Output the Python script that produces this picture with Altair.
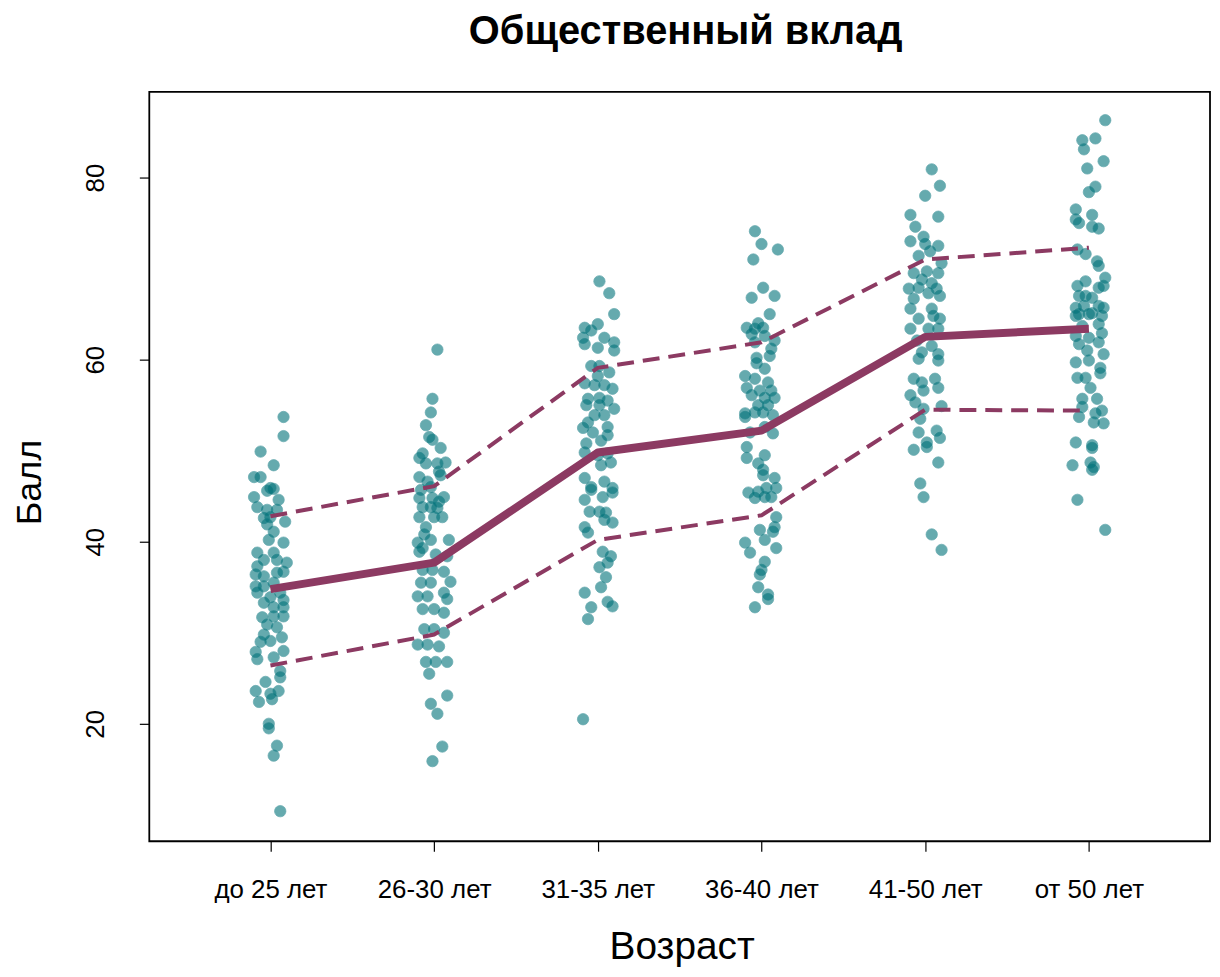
import altair as alt
import pandas as pd

title_text = "Общественный вклад"
x_title = "Возраст"
y_title = "Балл"
categories = ["до 25 лет", "26-30 лет", "31-35 лет", "36-40 лет", "41-50 лет", "от 50 лет"]

mean_vals = [34.8, 37.7, 49.8, 52.2, 62.5, 63.4]
upper_vals = [42.8, 46.1, 59.1, 61.9, 71.0, 72.3]
lower_vals = [26.4, 29.8, 40.2, 42.9, 54.5, 54.4]

g1_y = [53.7,51.6,49.9,48.4,47.1,47.1,45.9,45.8,45.6,44.9,44.6,43.8,43.5,43.5,42.6,42.7,42.2,41.9,41.1,40.2,
        39.9,38.8,38.8,38.0,38.0,37.7,37.3,36.7,36.4,36.2,36.6,35.1,35.1,35.5,34.4,34.4,33.9,33.6,33.3,32.8,
        32.8,31.7,31.8,31.8,30.9,30.6,29.8,29.5,29.0,29.1,28.0,27.9,27.1,27.3,25.8,25.1,24.6,23.6,23.6,23.3,
        22.4,22.7,20.0,19.5,17.6,16.5,10.4]
g1_dx = [0.08,0.08,-0.06,0.02,-0.10,-0.06,0.00,0.02,-0.02,-0.10,0.05,-0.08,-0.02,0.04,-0.04,0.00,0.09,-0.02,0.02,-0.01,
         0.08,-0.08,0.02,-0.04,0.04,0.10,-0.08,0.08,-0.09,-0.04,0.04,-0.09,-0.04,0.02,0.06,-0.08,0.00,0.08,-0.04,0.02,
         0.08,-0.05,0.02,0.08,-0.02,0.04,-0.04,0.07,-0.06,0.00,0.08,-0.09,-0.08,0.02,0.06,0.06,-0.03,-0.09,0.05,0.00,
         -0.07,0.01,-0.01,-0.01,0.04,0.02,0.06]

g2_y = [61.1,55.7,54.2,52.8,51.5,51.2,50.3,49.7,49.2,48.6,48.6,48.7,47.7,47.1,46.6,47.3,46.0,45.7,44.8,44.8,
        44.9,43.8,43.8,43.7,44.4,42.7,42.7,42.7,41.6,40.8,39.9,39.3,40.2,40.2,38.9,38.6,38.4,36.9,36.9,36.7,
        35.5,35.5,35.6,34.0,34.0,34.4,33.7,32.6,32.6,32.2,30.4,30.4,30.0,28.7,28.7,28.5,26.8,26.8,26.8,25.5,
        23.1,22.2,21.1,17.5,15.9]
g2_dx = [0.02,-0.01,-0.02,-0.05,-0.03,-0.01,0.04,-0.07,-0.09,-0.05,0.02,0.07,0.03,-0.09,-0.04,0.04,-0.02,-0.08,-0.09,-0.01,
         0.06,-0.07,-0.02,0.02,0.03,-0.09,0.00,0.05,-0.05,-0.06,-0.10,-0.07,-0.02,0.09,-0.09,0.01,0.08,-0.07,-0.01,0.06,
         -0.08,-0.02,0.10,-0.10,-0.04,0.06,0.08,-0.07,0.00,0.06,-0.06,0.00,0.06,-0.10,-0.04,0.03,-0.05,0.01,0.08,-0.03,
         0.08,-0.02,0.02,0.05,-0.01]

g3_y = [68.6,67.3,65.0,63.9,63.5,63.2,62.4,62.4,61.7,61.3,61.9,61.0,59.3,59.3,58.6,58.2,57.4,57.2,57.2,56.8,
        55.7,55.8,55.5,55.0,55.0,54.6,53.9,53.9,53.1,52.5,52.6,52.0,51.7,50.8,51.1,49.8,49.5,49.7,48.4,48.7,
        47.0,46.0,46.6,45.9,45.7,44.9,45.4,44.6,43.3,43.3,43.2,42.4,42.1,41.6,41.0,38.9,38.4,37.7,37.2,36.1,
        35.0,34.4,33.4,32.9,32.8,31.5,20.5]
g3_dx = [0.01,0.07,0.10,0.00,-0.08,-0.04,-0.09,0.04,-0.08,0.00,0.10,0.10,-0.04,0.01,0.07,0.00,-0.08,-0.02,0.04,0.09,
         -0.06,0.01,0.06,-0.07,0.01,0.10,-0.02,0.04,-0.06,-0.09,0.06,-0.03,0.06,-0.07,0.02,-0.08,0.00,0.06,0.02,0.08,
         -0.08,-0.04,0.04,0.09,-0.04,0.03,0.09,-0.08,-0.05,0.01,0.05,0.04,0.09,-0.08,-0.06,0.03,0.08,0.06,0.01,0.05,
         0.02,-0.08,0.06,0.09,-0.04,-0.06,-0.09]

g4_y = [74.1,72.7,72.1,71.0,67.9,66.8,67.0,65.0,64.0,63.5,63.4,63.5,62.8,62.6,61.9,62.1,61.2,60.4,60.2,59.6,
        59.0,58.2,57.9,57.5,56.9,56.6,56.6,56.1,55.8,55.8,55.0,55.0,54.2,54.1,54.2,53.7,53.9,52.0,52.6,51.9,
        50.4,49.2,49.5,48.6,47.9,47.3,47.0,45.4,45.5,45.9,45.9,44.8,44.9,44.9,42.7,41.6,41.3,41.1,40.2,39.9,
        38.8,39.3,37.8,36.9,36.4,35.0,34.2,33.7,32.8]
g4_dx = [-0.04,0.00,0.10,-0.05,0.01,-0.06,0.08,0.05,-0.02,-0.09,-0.04,0.01,-0.06,0.02,-0.04,0.08,0.06,0.05,-0.03,-0.03,
         0.02,-0.10,-0.04,0.04,-0.09,-0.01,0.06,-0.06,0.02,0.08,-0.02,0.04,-0.04,-0.10,0.01,-0.10,0.07,-0.07,0.02,0.07,
         -0.09,-0.09,0.02,-0.02,0.01,0.01,0.08,-0.08,-0.02,0.03,0.09,-0.04,0.02,0.06,0.09,0.08,-0.01,0.07,0.02,-0.10,
         -0.07,0.09,0.02,0.00,-0.01,-0.02,0.04,0.04,-0.04]

g5_y = [80.9,79.1,78.0,75.9,75.7,74.6,73.0,73.5,72.5,72.7,71.9,71.4,70.6,69.5,69.7,69.5,68.8,68.4,67.8,67.9,
        67.8,67.3,66.7,67.0,65.6,65.6,64.5,64.8,64.5,63.4,63.4,63.4,62.1,61.5,60.8,60.6,60.1,59.9,57.9,57.9,
        57.5,56.1,56.9,56.6,55.3,54.6,54.9,53.5,52.0,52.2,51.4,50.9,50.4,50.1,48.7,46.4,44.9,40.8,39.1]
g5_dx = [0.04,0.09,0.00,-0.09,0.08,-0.06,-0.09,-0.01,0.08,0.00,0.03,-0.04,0.10,-0.07,0.01,0.08,-0.02,0.04,-0.10,-0.04,
         0.07,0.02,-0.07,0.09,-0.09,0.04,-0.04,0.05,0.09,-0.09,0.02,0.08,-0.05,0.04,-0.02,0.08,-0.04,0.08,-0.07,0.06,
         -0.02,-0.09,0.08,-0.01,-0.06,-0.01,0.10,-0.03,-0.04,0.07,0.09,0.01,0.01,-0.07,0.08,-0.03,-0.01,0.04,0.10]

g6_y = [86.3,84.1,84.3,83.1,81.8,81.0,79.0,78.4,76.5,75.9,75.4,75.0,74.6,74.4,72.1,71.6,70.8,70.3,69.0,68.6,
        68.1,68.1,67.9,67.0,67.0,66.8,65.7,65.9,65.9,65.7,65.0,65.1,64.8,65.0,64.8,63.7,63.9,62.6,62.4,62.9,
        61.7,61.9,61.0,60.6,59.7,59.9,59.1,58.5,58.0,58.0,56.9,55.7,55.7,54.8,54.4,53.7,54.1,53.1,53.0,50.9,
        50.6,50.3,48.4,48.7,48.2,47.9,44.6,41.3]
g6_dx = [0.10,-0.04,0.04,-0.03,0.09,-0.01,0.04,0.00,-0.08,0.02,-0.08,-0.06,0.02,0.06,-0.07,-0.02,0.05,0.06,0.10,-0.02,
         -0.07,0.09,0.06,-0.06,-0.02,0.02,-0.08,-0.03,0.06,0.09,-0.06,0.02,-0.08,0.00,0.08,-0.04,0.06,-0.08,0.00,0.08,
         -0.06,0.06,-0.01,0.09,-0.08,0.00,0.07,0.07,-0.07,-0.02,0.01,-0.04,0.05,-0.04,0.08,-0.06,0.04,0.03,0.09,-0.08,
         0.02,0.02,-0.10,0.01,0.03,0.02,-0.07,0.10]

groups_y = [g1_y, g2_y, g3_y, g4_y, g5_y, g6_y]
groups_dx = [g1_dx, g2_dx, g3_dx, g4_dx, g5_dx, g6_dx]

rows = []
for i, (ys, dxs) in enumerate(zip(groups_y, groups_dx)):
    for y, dx in zip(ys, dxs):
        rows.append({"pos": i + 1 + dx, "score": y})
pts = pd.DataFrame(rows)

lines = pd.DataFrame({
    "pos": list(range(1, 7)),
    "mean": mean_vals,
    "upper": upper_vals,
    "lower": lower_vals,
})

FONT = "Liberation Sans"
TEAL = "#00727a"
PURPLE = "#8c3a62"
W, H = 1066, 753

label_expr = "[" + ",".join("'" + c + "'" for c in categories) + "][datum.value - 1]"

x_scale = alt.Scale(domain=[0.26, 6.74], nice=False, zero=False)
y_scale = alt.Scale(domain=[7.1, 89.4], nice=False, zero=False)

x_enc = alt.X(
    "pos:Q",
    scale=x_scale,
    axis=alt.Axis(
        values=[1, 2, 3, 4, 5, 6], labelExpr=label_expr, title=x_title,
        grid=False, domain=False, tickSize=10, tickColor="black", tickWidth=1.2,
        labelFont=FONT, labelFontSize=26, labelColor="black", labelPadding=26,
        titleFont=FONT, titleFontSize=39, titleFontWeight="normal", titleColor="black",
        titleX=W / 2 + 2, titleY=106, titleBaseline="middle", titleAlign="center",
    ),
)

y_axis = alt.Axis(
    values=[20, 40, 60, 80], title=y_title, grid=False, domain=False,
    tickSize=10, tickColor="black", tickWidth=1.2,
    labelFont=FONT, labelFontSize=26, labelColor="black", labelAngle=-90,
    labelAlign="center", labelBaseline="bottom", labelPadding=31,
    titleFont=FONT, titleFontSize=36, titleFontWeight="normal", titleColor="black",
    titleX=-120, titleY=392, titleBaseline="middle", titleAlign="center",
)

points = alt.Chart(pts).mark_circle(
    size=130, color=TEAL, opacity=0.6, stroke=TEAL, strokeWidth=1, strokeOpacity=0.75
).encode(
    x=x_enc,
    y=alt.Y("score:Q", scale=y_scale, axis=y_axis),
)

base = alt.Chart(lines).encode(x=alt.X("pos:Q", scale=x_scale))

mean_line = base.mark_line(color=PURPLE, strokeWidth=8, strokeJoin="round").encode(
    y=alt.Y("mean:Q", scale=y_scale)
)
upper_line = base.mark_line(color=PURPLE, strokeWidth=4, strokeDash=[17, 9]).encode(
    y=alt.Y("upper:Q", scale=y_scale)
)
lower_line = base.mark_line(color=PURPLE, strokeWidth=4, strokeDash=[17, 9]).encode(
    y=alt.Y("lower:Q", scale=y_scale)
)

title_mark = alt.Chart(pd.DataFrame({"t": [title_text]})).mark_text(
    font=FONT, fontSize=40, fontWeight="bold", color="black",
    align="center", baseline="alphabetic",
).encode(
    x=alt.value(539), y=alt.value(-48), text="t:N"
)

chart = alt.layer(points, upper_line, lower_line, mean_line, title_mark).properties(
    width=W,
    height=H,
    padding={"left": 142, "top": 82, "right": 2, "bottom": 126},
    autosize=alt.AutoSizeParams(type="none"),
).configure_view(stroke="black", strokeWidth=1.8)

chart.save("out.html", embed_options={"renderer": "svg", "actions": False})
